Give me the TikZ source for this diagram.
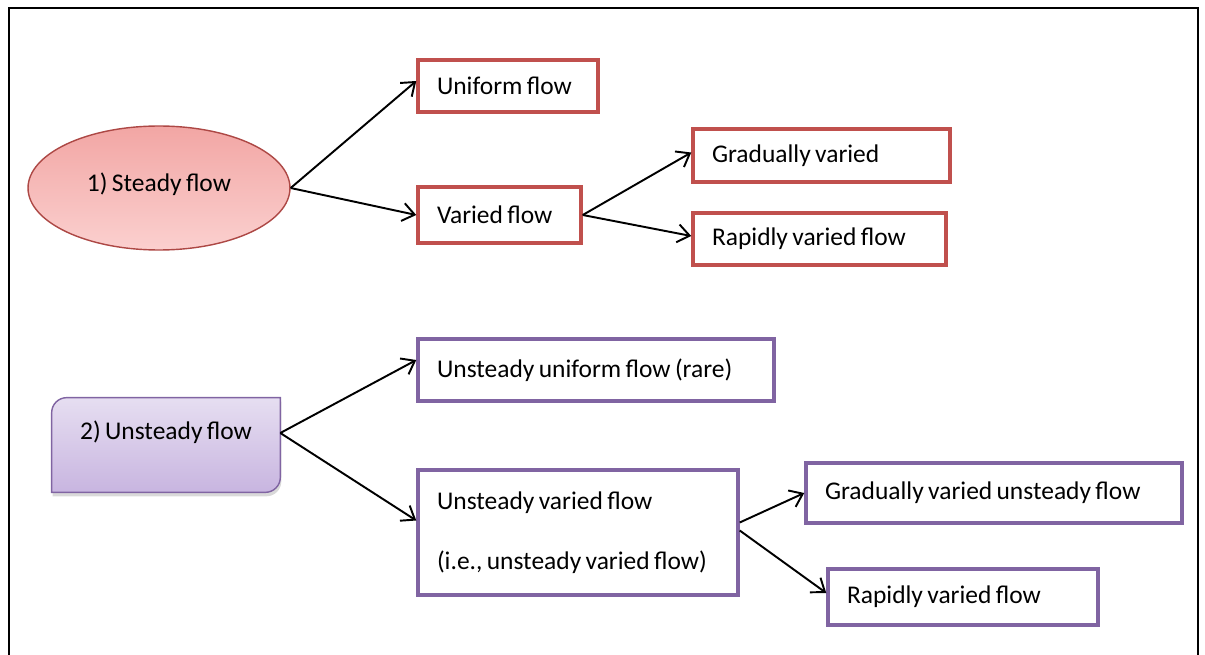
\documentclass[tikz,border=0pt]{standalone}
\usepackage{fontspec}
\setmainfont{Carlito}
\usetikzlibrary{arrows.meta,shapes.geometric,shadows}
\definecolor{boxred}{HTML}{C0504D}
\definecolor{boxpurple}{HTML}{8064A2}
\newcommand\flowfont{\fontsize{14.5}{17.4}\selectfont\spaceskip=0.17em plus 0.05em\relax}

\begin{document}
\begin{tikzpicture}[x=0.02cm,y=-0.02cm,
			font=\flowfont,
			steadyshape/.style={ellipse, draw=boxred!90!black, line width=0.8pt, top color={rgb,255:red,242;green,166;blue,164}, bottom color={rgb,255:red,251;green,208;blue,207}, minimum width=5.24cm, minimum height=2.48cm},
			redbox/.style={rectangle, draw=boxred, line width=2pt, fill=white, inner xsep=0.38cm, align=flush left},
			purplebox/.style={rectangle, draw=boxpurple, line width=2pt, fill=white, inner xsep=0.38cm, align=flush left},
			link/.style={-{Straight Barb[length=2.4mm,width=3.6mm]}, line width=1.1pt}
			]
			\clip (0,0) rectangle (1205,655);
			\draw[line width=1pt] (9,8) rectangle (1198,680);
			
			% steady branch
			\node[steadyshape] (steady) at (159,188) {\raisebox{0.22cm}{1) Steady flow}};
			\node[redbox, text width=2.84cm, minimum height=1.04cm] (uniform) at (508,86) {Uniform flow};
			\node[redbox, text width=2.5cm, minimum height=1.12cm] (varied) at (499.5,215) {Varied flow};
			\node[redbox, text width=4.38cm, minimum height=1.06cm] (gradual) at (821.5,155.5) {Gradually varied};
			\node[redbox, text width=4.3cm, minimum height=1.04cm] (rapid) at (819.5,239) {Rapidly varied flow};
			
			% unsteady branch
			\node[minimum width=4.56cm, minimum height=1.88cm] (unsteady) at (166,445) {};
			\draw[boxpurple, line width=0.8pt, top color={rgb,255:red,230;green,222;blue,241}, bottom color={rgb,255:red,200;green,181;blue,224}, drop shadow={opacity=0.3,shadow xshift=0.02cm,shadow yshift=-0.08cm}]
				([xshift=0.3cm]unsteady.north west) -- (unsteady.north east) -- ([yshift=0.3cm]unsteady.south east)
				arc[start angle=0, end angle=-90, radius=0.3cm] -- (unsteady.south west)
				-- ([yshift=-0.3cm]unsteady.north west) arc[start angle=180, end angle=90, radius=0.3cm] -- cycle;
			\node at (unsteady) [yshift=0.26cm] {2) Unsteady flow};
			\node[purplebox, text width=6.36cm, minimum height=1.24cm] (ununi) at (596,370) {Unsteady uniform flow (rare)};
			\node[purplebox, text width=5.64cm, minimum height=2.5cm] (unvar) at (578,532.5) {Unsteady varied flow\\[16.5pt](i.e., unsteady varied flow)};
			\node[purplebox, text width=6.76cm, minimum height=1.2cm] (gradun) at (994,493) {Gradually varied unsteady flow};
			\node[purplebox, text width=4.64cm, minimum height=1.12cm] (rapidun) at (963,597) {Rapidly varied flow};
			
			\draw[link] (steady.east) -- ([yshift=0.1cm]uniform.west);
			\draw[link] (steady.east) -- (varied.west);
			\draw[link] (varied.east) -- ([yshift=0.06cm]gradual.west);
			\draw[link] (varied.east) -- ([yshift=0.06cm]rapid.west);
			\draw[link] ([yshift=0.24cm]unsteady.east) -- ([yshift=0.2cm]ununi.west);
			\draw[link] ([yshift=0.24cm]unsteady.east) -- ([yshift=0.24cm]unvar.west);
			\draw[link] ([yshift=0.2cm]unvar.east) -- (gradun.west);
			\draw[link] ([yshift=0.04cm]unvar.east) -- ([yshift=0.08cm]rapidun.west);
		\end{tikzpicture}
\end{document}
